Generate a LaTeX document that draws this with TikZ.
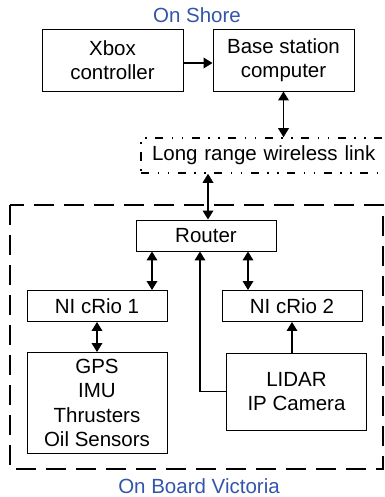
\documentclass[tikz,border=0pt]{standalone}
\usepackage{fontspec}
\setmainfont{Liberation Sans}
\usetikzlibrary{arrows.meta}

\definecolor{labelblue}{RGB}{51,85,170}

\tikzset{
    unit/.style={draw, line width=0.9pt, inner sep=0pt, align=center,
        minimum width=140pt},
    link/.style={line width=1.8pt, -{Triangle[length=9pt,width=10.5pt]}},
    twoway/.style={line width=1.8pt, {Triangle[length=9pt,width=10.5pt]}-{Triangle[length=9pt,width=10.5pt]}},
}

\begin{document}
\begin{tikzpicture}[x=1pt, y=-1pt, font=\fontsize{20.5}{24.5}\selectfont]
    \useasboundingbox (0,0) rectangle (384,497);

    % region outline and titles
    \draw[line width=1.8pt, dash pattern=on 20pt off 10pt] (10,205) rectangle (383,469);
    \node[text=labelblue] (shore) at (197,15) {On Shore};
    \node[text=labelblue] (board) at (199,486) {On Board Victoria};

    % shore side
    \node[unit, minimum width=141pt, minimum height=62pt] (xbox) at (112.5,60) {Xbox\\controller};
    \node[unit, minimum width=141pt, minimum height=62pt] (base) at (283.5,60) {Base station\\computer};
    \node[draw, line width=1.5pt, inner sep=0pt, minimum width=249pt, minimum height=35pt,
        dash pattern=on 8pt off 8.5pt on 1.5pt off 8.5pt on 1.5pt off 8.5pt,
        text width=245pt, align=left] (wireless) at (265.5,155.5) {\hspace*{9pt}Long range wireless link};

    % on board
    \node[unit, minimum height=31pt] (router) at (206,235.5) {Router};
    \node[unit, minimum height=31pt] (crio1) at (97,306) {NI cRio 1};
    \node[unit, minimum height=31pt] (crio2) at (292,306) {NI cRio 2};
    \node[unit, minimum height=101pt] (gps) at (97,403) {GPS\\IMU\\Thrusters\\Oil Sensors};
    \node[unit, minimum height=77pt] (lidar) at (296.5,391.5) {LIDAR\\IP Camera};

    % connections
    \draw[link] ([yshift=-3pt]xbox.east) -- ([yshift=-3pt]base.west);
    \draw[twoway] (base.south) -- (base.south |- wireless.north);
    \draw[twoway] (wireless.south -| router.north) ++(2,0) -- ([xshift=2pt]router.north);
    \draw[twoway] ([xshift=55pt]crio1.north |- router.south) -- ([xshift=55pt]crio1.north);
    \draw[twoway] ([xshift=-44pt]crio2.north |- router.south) -- ([xshift=-44pt]crio2.north);
    \draw[twoway] (crio1.south) -- (gps.north);
    \draw[link] (lidar.north -| crio2.south) -- (crio2.south);
    \draw[link] (lidar.west) -| ([xshift=-6pt]router.south);
\end{tikzpicture}
\end{document}
